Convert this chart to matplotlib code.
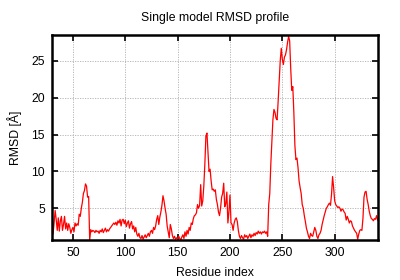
import numpy as np
import matplotlib
matplotlib.use("Agg")
import matplotlib.pyplot as plt

plt.rcParams['font.family'] = ['Liberation Sans', 'DejaVu Sans']

residue_start = 30
rmsd = [
    5.7, 1.5, 3.0, 4.7, 3.5, 2.0, 3.7, 1.9, 3.3, 3.9,
    2.0, 2.8, 3.9, 2.2, 3.0, 2.0, 2.9, 2.4, 1.6, 2.1,
    2.4, 1.8, 3.0, 2.6, 2.9, 2.7, 4.2, 3.9, 5.0, 5.8,
    7.0, 7.4, 8.3, 8.0, 6.5, 6.6, 0.7, 2.1, 1.8, 2.0,
    1.9, 1.7, 2.0, 1.8, 1.9, 1.6, 2.0, 1.8, 2.2, 1.7,
    2.0, 2.3, 1.8, 2.1, 1.9, 2.2, 2.4, 2.6, 2.8, 3.0,
    2.8, 3.1, 2.7, 3.3, 3.0, 3.5, 2.6, 3.4, 3.5, 2.9,
    3.4, 2.5, 3.0, 3.3, 2.3, 2.9, 3.2, 2.2, 2.6, 1.8,
    2.4, 1.5, 1.2, 1.6, 1.0, 0.9, 1.3, 0.8, 1.1, 1.4,
    1.0, 1.3, 1.6, 1.2, 1.8, 2.0, 1.6, 2.4, 2.1, 2.6,
    3.5, 4.0, 2.8, 3.8, 4.5, 5.4, 6.7, 6.0, 5.0, 4.2,
    2.6, 1.8, 1.0, 2.8, 2.2, 1.3, 0.9, 1.2, 0.8, 1.0,
    0.8, 1.2, 0.9, 0.7, 1.1, 1.4, 0.9, 1.8, 1.2, 2.0,
    1.5, 2.4, 2.0, 3.0, 2.8, 3.6, 4.0, 4.1, 4.4, 5.5,
    5.0, 5.4, 8.2, 5.3, 6.0, 8.0, 11.0, 14.8, 15.2, 12.5,
    10.0, 10.3, 8.7, 7.5, 7.6, 7.3, 7.5, 6.2, 5.5, 4.5,
    4.0, 5.0, 6.5, 7.0, 8.4, 5.2, 5.6, 7.2, 3.0, 4.5,
    6.8, 3.0, 2.8, 2.0, 3.0, 3.5, 3.7, 3.2, 2.0, 1.2,
    0.9, 1.3, 1.0, 0.8, 1.4, 1.1, 1.3, 0.9, 1.2, 1.5,
    1.0, 1.4, 1.2, 1.6, 1.3, 1.7, 1.5, 1.9, 1.6, 1.8,
    1.5, 1.8, 1.7, 1.9, 1.6, 1.8, 1.2, 5.5, 7.0, 11.0,
    14.0, 17.0, 18.4, 18.0, 17.2, 17.0, 19.5, 22.4, 25.0, 26.7,
    25.2, 24.5, 25.5, 25.8, 26.5, 27.5, 28.3, 27.7, 24.0, 21.0,
    21.5, 18.0, 13.5, 11.6, 11.8, 10.5, 8.7, 7.8, 7.0, 5.5,
    5.0, 4.0, 3.2, 2.3, 1.8, 1.2, 0.9, 1.6, 1.3, 1.2,
    1.8, 2.4, 2.0, 1.2, 0.9, 1.4, 1.6, 2.0, 2.8, 3.4,
    4.0, 4.5, 5.0, 5.2, 5.5, 5.7, 5.4, 6.9, 9.3, 7.8,
    6.0, 5.5, 5.3, 5.1, 5.2, 5.0, 4.6, 4.9, 4.8, 4.5,
    4.3, 3.4, 3.9, 3.5, 3.0, 3.3, 3.2, 2.6, 2.3, 2.0,
    1.8, 1.6, 0.8, 1.5, 2.0, 2.1, 2.0, 3.6, 6.5, 7.2,
    7.3, 6.2, 5.5, 4.6, 4.0, 3.6, 3.5, 3.3, 3.6, 3.5,
    4.0, 3.4,
]
residues = np.arange(residue_start, residue_start + len(rmsd))

x_ticks = [50, 100, 150, 200, 250, 300]
y_ticks = [5, 10, 15, 20, 25]

fs = 8.8
fig = plt.figure(figsize=(4.0, 2.8), dpi=100)
ax = fig.add_axes([0.13, 0.143, 0.814, 0.732])
ax.plot(residues, rmsd, color='#ff0000', lw=0.9)
ax.set_xlim(30, 341)
ax.set_ylim(0.7, 28.5)
ax.set_xticks(x_ticks)
ax.set_yticks(y_ticks)
ax.grid(True, color='#b0b0b0', linestyle=(0, (1.5, 1.5)), lw=0.6)
ax.tick_params(direction='in', length=4, width=1.2, top=True, right=True,
               labelsize=fs, pad=5, colors='black')
for s in ax.spines.values():
    s.set_linewidth(1.8)
ax.set_title('Single model RMSD profile', fontsize=fs, pad=10)
ax.set_xlabel('Residue index', fontsize=fs, labelpad=6)
ax.set_ylabel('RMSD [Å]', fontsize=fs, labelpad=7)
fig.savefig('out.png', dpi=100)
